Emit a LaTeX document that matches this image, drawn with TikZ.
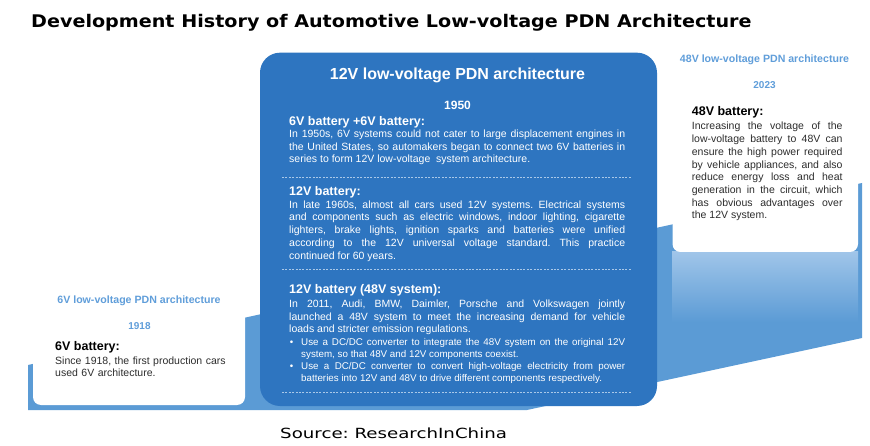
\documentclass[tikz,border=0pt]{standalone}
\usepackage{fontspec}
\setmainfont{Liberation Sans}
\newfontfamily\verdana[FakeStretch=1.1]{DejaVu Sans}
\newfontfamily\verdanawide[FakeStretch=1.3]{DejaVu Sans}
\usepackage{xcolor}
\usepackage{tikz}
\usetikzlibrary{positioning,calc}
\definecolor{boxblue}{RGB}{46, 117, 192}
\definecolor{bandblue}{RGB}{91, 155, 213}
\definecolor{paleblue}{RGB}{160, 197, 233}
\definecolor{headblue}{RGB}{96, 158, 218}
\definecolor{sepwhite}{RGB}{170, 200, 232}
\definecolor{bodygray}{RGB}{45, 45, 45}

\tikzset{
  boxtitle/.style={anchor=base, white, font=\bfseries\fontsize{16}{19}\selectfont},
  yearwhite/.style={anchor=base, white, font=\bfseries\fontsize{12}{14}\selectfont},
  headwhite/.style={anchor=base west, white, font=\bfseries\fontsize{12.5}{15}\selectfont},
  bodywhite/.style={anchor=base west, white, text width=336pt, align=justify,
    font=\fontsize{10.5}{12.7}\selectfont},
  bulletwhite/.style={anchor=base west, white, text width=324pt, align=justify,
    font=\fontsize{9.8}{12}\selectfont},
  cardhead/.style={anchor=base, headblue, font=\bfseries\fontsize{10.6}{13}\selectfont},
  cardyear/.style={anchor=base, headblue, font=\bfseries\fontsize{10}{12}\selectfont},
  headdark/.style={anchor=base west, black, font=\bfseries\fontsize{12.5}{15}\selectfont},
  bodydark/.style={anchor=base west, bodygray, font=\fontsize{10.5}{12.7}\selectfont},
  sepline/.style={sepwhite, line width=0.8pt, dash pattern=on 2pt off 1.4pt},
}

\begin{document}
\frenchspacing
\begin{tikzpicture}[x=1pt,y=-1pt,inner sep=0pt]
    \useasboundingbox (0,0) rectangle (870,446);
    \fill[white] (0,0) rectangle (870,446);

    % title and source
    \node[anchor=base west, font=\verdana\bfseries\fontsize{17.4}{20}\selectfont] (title) at (31,27.7)
        {Development History of Automotive Low-voltage PDN Architecture};
    \node[anchor=base west, font=\verdanawide\fontsize{14}{17}\selectfont] (source) at (280,438.3)
        {Source: ResearchInChina};

    % slanted band behind the cards
    \fill[bandblue] (28,365) -- (862,183) -- (862,338) -- (527,410) -- (28,410) -- cycle;
    \shade[top color=paleblue, bottom color=bandblue] (672,252) rectangle (858,322);

    % white cards
    \fill[white, rounded corners=8pt] (33,280) rectangle (245,405);
    \fill[white, rounded corners=8pt] (672.5,40) rectangle (858,252);

    % 12V box
    \fill[boxblue, rounded corners=20pt] (260,52.7) rectangle (657,406);
    \draw[sepline] (282,177.5) -- (632,177.5);
    \draw[sepline] (282,269.5) -- (632,269.5);
    \draw[sepline] (282,392.7) -- (632,392.7);

    \node[boxtitle] (midtitle) at (457.5,79.3) {12V low-voltage PDN architecture};
    \node[yearwhite] (midyear) at (457.5,110) {1950};

    \node[headwhite] (headA) at (289,125.5) {6V battery +6V battery:};
    \node[bodywhite] (bodyA) at (289,137.5)
        {In 1950s, 6V systems could not cater to large displacement engines in\linebreak
         the United States, so automakers began to connect two 6V batteries in\linebreak
         series to form 12V low-voltage\ \ system architecture.};

    \node[headwhite] (headB) at (289,196) {12V battery:};
    \node[bodywhite] (bodyB) at (289,208.3)
        {In late 1960s, almost all cars used 12V systems. Electrical systems\linebreak
         and components such as electric windows, indoor lighting, cigarette\linebreak
         lighters, brake lights, ignition sparks and batteries were unified\linebreak
         according to the 12V universal voltage standard. This practice\linebreak
         continued for 60 years.};

    \node[headwhite] (headC) at (289,294) {12V battery (48V system):};
    \node[bodywhite] (bodyC) at (289,307.5)
        {In 2011, Audi, BMW, Daimler, Porsche and Volkswagen jointly\linebreak
         launched a 48V system to meet the increasing demand for vehicle\linebreak
         loads and stricter emission regulations.};
    \node[anchor=base, white, font=\fontsize{9.8}{12}\selectfont] (dotA) at (291.5,345) {\textbullet};
    \node[bulletwhite] (itemA) at (301,345)
        {Use a DC/DC converter to integrate the 48V system on the original 12V\linebreak
         system, so that 48V and 12V components coexist.};
    \node[anchor=base, white, font=\fontsize{9.8}{12}\selectfont] (dotB) at (291.5,369) {\textbullet};
    \node[bulletwhite] (itemB) at (301,369)
        {Use a DC/DC converter to convert high-voltage electricity from power\linebreak
         batteries into 12V and 48V to drive different components respectively.};

    % 48V card
    \node[cardhead] (rightHead) at (764.5,63) {48V low-voltage PDN architecture};
    \node[cardyear] (rightYear) at (764.5,88.3) {2023};
    \node[headdark] (rightBattery) at (691.7,116) {48V battery:};
    \node[bodydark, text width=150.7pt, align=justify] (rightBody) at (691.7,130)
        {Increasing the voltage of the\linebreak
         low-voltage battery to 48V can\linebreak
         ensure the high power required\linebreak
         by vehicle appliances, and also\linebreak
         reduce energy loss and heat\linebreak
         generation in the circuit, which\linebreak
         has obvious advantages over\linebreak
         the 12V system.};

    % 6V card
    \node[cardhead] (leftHead) at (139,304) {6V low-voltage PDN architecture};
    \node[cardyear] (leftYear) at (139.5,329.3) {1918};
    \node[headdark] (leftBattery) at (55,350) {6V battery:};
    \node[bodydark, text width=180pt, align=left] (leftBody) at (55,364)
        {Since 1918, the first production cars\\used 6V architecture.};
\end{tikzpicture}
\end{document}
